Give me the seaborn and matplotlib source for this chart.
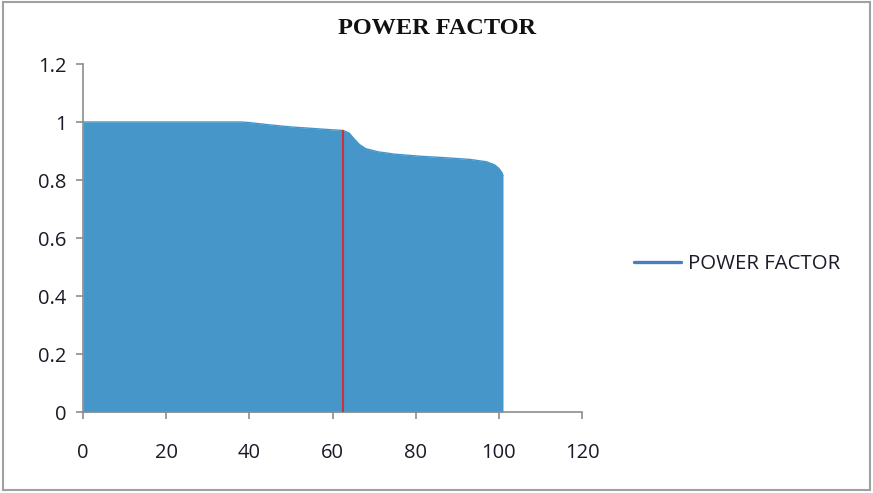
import matplotlib
matplotlib.use("Agg")
import matplotlib.pyplot as plt
import seaborn as sns
import pandas as pd
from matplotlib.lines import Line2D
from matplotlib.patches import Rectangle

# Data
x_vals = [0, 10, 20, 30, 38, 40, 45, 50, 55, 60, 62.5, 64, 65, 66.5, 68, 71,
          75, 81, 87, 93, 97, 99, 100, 100.8, 101]
pf_vals = [1.0, 1.0, 1.0, 1.0, 1.0, 0.998, 0.99, 0.983, 0.978, 0.973, 0.971,
           0.962, 0.945, 0.922, 0.908, 0.897, 0.889, 0.882, 0.877, 0.871,
           0.863, 0.852, 0.840, 0.824, 0.815]
marker_x = 62.5
marker_top = 0.972
x_ticks = [0, 20, 40, 60, 80, 100, 120]
y_ticks = [0, 0.2, 0.4, 0.6, 0.8, 1, 1.2]
y_tick_labels = ["0", "0.2", "0.4", "0.6", "0.8", "1", "1.2"]
series_name = "POWER FACTOR"
title = "POWER FACTOR"

df = pd.DataFrame({"x": x_vals, "pf": pf_vals})

sns.set_theme(style="white")
plt.rcParams["font.family"] = ["Open Sans", "DejaVu Sans"]

fig = plt.figure(figsize=(8.73, 4.93), dpi=100)
ax = fig.add_axes([83/873, 1-412/493, (582-83)/873, (412-64)/493])

fill_col = "#4696CA"
ax.fill_between(df["x"], 0, df["pf"], color=fill_col, linewidth=0, zorder=2)
sns.lineplot(data=df, x="x", y="pf", ax=ax, color=fill_col, linewidth=1,
             legend=False, zorder=3)
ax.vlines(marker_x, 0, marker_top, color="#D0303A", linewidth=1.5, zorder=4)

ax.set_xlim(0, 120)
ax.set_ylim(0, 1.2)
ax.set_xticks(x_ticks)
ax.set_yticks(y_ticks)
ax.set_yticklabels(y_tick_labels)
ax.set_xlabel("")
ax.set_ylabel("")
for s in ["top", "right"]:
    ax.spines[s].set_visible(False)
for s in ["left", "bottom"]:
    ax.spines[s].set_color("#8C8C8C")
    ax.spines[s].set_linewidth(1.2)
ax.tick_params(axis="both", which="both", direction="out", length=5,
               width=1.2, color="#8C8C8C", labelsize=14.5, labelcolor="#1A1A28")
ax.tick_params(axis="x", pad=17, bottom=True)
ax.tick_params(axis="y", pad=7, left=True)

fig.text(437/873, 1-29/493, title, ha="center", va="center",
         fontsize=17.5, fontweight="bold", family=["Liberation Serif"], color="#111111")

handle = Line2D([0], [0], color="#4A7EBB", linewidth=2.4)
fig.legend([handle], [series_name], loc="center left",
           bbox_to_anchor=(616/873, 1-264/493), frameon=False,
           fontsize=14.7, handlelength=2.3, handletextpad=0.35,
           labelcolor="#1A1A28")

fig.patches.append(Rectangle((0.004, 0.006), 0.992, 0.99, transform=fig.transFigure,
                             fill=False, edgecolor="#A0A0A0", linewidth=1.5))

fig.savefig("out.png", dpi=100)
